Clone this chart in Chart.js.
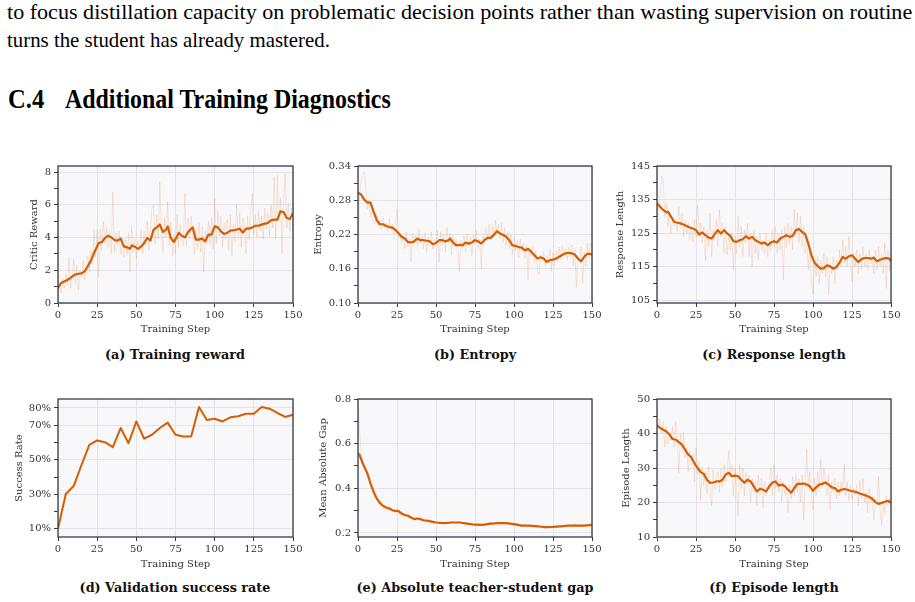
<!DOCTYPE html>
<html>
<head>
<meta charset="utf-8">
<script src="https://cdn.jsdelivr.net/npm/chart.js@4.4.0/dist/chart.umd.min.js"></script>
<style>
  body { margin: 0; width: 915px; height: 602px; background: #fff; position: relative; overflow: hidden; }
  .txt { position: absolute; white-space: nowrap; font-family: "Liberation Serif"; color: #000; transform-origin: 0 0; display: inline-block; }
  canvas { position: absolute; }
  .cap { position: absolute; font-family: "DejaVu Serif"; font-weight: bold; font-size: 12.8px; line-height: 15px; color: #111; white-space: nowrap; transform: translateX(-50%); }
</style>
</head>
<body>

<div class="txt" data-w="905" style="left:7px;top:0.5px;font-size:22px;line-height:22px">to focus distillation capacity on problematic decision points rather than wasting supervision on routine</div>
<div class="txt" data-w="323" style="left:7px;top:28.5px;font-size:22px;line-height:22px">turns the student has already mastered.</div>
<div class="txt" data-w="36" style="left:8px;top:84.5px;font-size:28px;line-height:28px;font-weight:bold">C.4</div>
<div class="txt" data-w="326" style="left:65px;top:84.5px;font-size:28px;line-height:28px;font-weight:bold">Additional Training Diagnostics</div>

<canvas id="ca" width="305" height="184" style="left:0;top:156px"></canvas>
<canvas id="cb" width="305" height="184" style="left:305px;top:156px"></canvas>
<canvas id="cc" width="305" height="184" style="left:610px;top:156px"></canvas>
<canvas id="cd" width="305" height="185" style="left:0;top:389px"></canvas>
<canvas id="ce" width="305" height="185" style="left:305px;top:389px"></canvas>
<canvas id="cf" width="305" height="185" style="left:610px;top:389px"></canvas>

<div class="cap" style="left:175px;top:346.5px">(a) Training reward</div>
<div class="cap" style="left:475px;top:346.5px">(b) Entropy</div>
<div class="cap" style="left:774px;top:346.5px">(c) Response length</div>
<div class="cap" style="left:175px;top:580px">(d) Validation success rate</div>
<div class="cap" style="left:475px;top:580px">(e) Absolute teacher-student gap</div>
<div class="cap" style="left:774px;top:580px">(f) Episode length</div>

<script>
// ---- data ----
const xTicks = [0, 25, 50, 75, 100, 125, 150];
const steps = Array.from({length: 151}, (_, i) => i);

// (a) critic reward
const rewardSmoothX = [0,2,5,8,10,12,15,17,19,21,23,25,26,28,30,32,34,36,38,40,42,44,46,47,49,51,53,55,57,59,61,63,65,67,69,70,72,74,76,77,79,81,83,85,86,88,90,92,94,96,98,100,102,104,106,108,110,113,116,118,120,122,124,126,128,130,132,134,136,138,140,142,144,146,148,149,150];
const rewardSmooth = [0.92,1.22,1.36,1.53,1.69,1.77,1.81,1.93,2.24,2.59,3.05,3.46,3.67,3.73,3.97,4.11,4.01,3.85,3.81,3.93,3.46,3.40,3.32,3.52,3.44,3.30,3.44,3.67,3.97,3.81,4.48,4.62,4.79,4.34,4.48,4.68,3.97,3.73,4.07,4.28,4.11,4.01,4.32,4.54,4.62,3.87,3.87,3.93,3.77,4.18,4.18,4.68,4.62,4.38,4.22,4.28,4.42,4.46,4.54,4.30,4.54,4.54,4.62,4.72,4.72,4.79,4.85,4.89,5.05,5.09,5.09,5.60,5.56,5.19,5.13,5.30,5.50];
const rewardRaw = [
  0.4,1.2,0.6,1.5,0.9,1.8,1.1,2.8,0.9,1.6,
  2.7,1.2,2.3,0.8,2.0,1.5,2.6,1.4,2.3,2.9,
  1.9,3.2,2.4,4.5,2.8,4.5,1.6,4.5,3.2,5.0,
  3.6,4.6,3.4,4.4,3.0,6.8,3.1,4.3,3.5,4.4,
  3.0,4.0,2.8,3.9,2.9,4.3,1.9,4.7,3.1,3.9,
  2.7,3.8,3.2,4.5,3.0,4.4,3.5,5.0,3.2,4.6,
  5.8,6.0,3.6,5.4,3.9,7.4,4.2,3.1,5.2,4.0,
  6.2,3.5,4.9,2.9,4.2,3.0,5.4,3.4,4.8,3.7,
  3.5,6.7,3.5,5.2,3.9,5.3,4.3,3.0,4.5,3.3,
  4.9,3.1,4.7,1.9,4.4,3.6,5.0,3.5,5.2,3.3,
  6.4,3.6,5.6,4.1,5.3,3.4,4.9,3.9,5.1,3.2,
  5.4,2.9,4.8,3.8,6.0,4.0,5.5,3.4,5.2,4.6,
  3.0,5.3,3.9,5.6,6.7,4.2,5.4,4.0,5.6,4.4,
  5.3,3.9,5.8,4.5,5.5,4.1,6.0,4.6,7.7,3.9,
  7.8,5.0,6.4,3.0,6.2,7.9,4.6,6.1,4.4,5.8,
  4.3];

// (b) entropy
const entropySmoothX = [0,2,4,6,8,10,12,14,16,18,20,22,24,26,28,30,32,34,36,38,40,42,44,46,48,50,52,54,56,58,59,61,63,65,67,69,71,73,75,77,79,81,83,85,87,89,91,93,95,97,99,101,103,105,107,109,111,113,115,117,119,121,123,125,127,129,131,133,135,137,139,141,143,145,147,149,150];
const entropySmooth = [0.293,0.290,0.281,0.276,0.276,0.260,0.245,0.238,0.238,0.235,0.233,0.232,0.228,0.222,0.216,0.213,0.207,0.206,0.208,0.213,0.210,0.210,0.209,0.208,0.203,0.205,0.210,0.210,0.208,0.210,0.213,0.206,0.201,0.202,0.201,0.206,0.204,0.206,0.210,0.208,0.204,0.210,0.214,0.214,0.219,0.226,0.222,0.219,0.216,0.210,0.201,0.200,0.198,0.197,0.192,0.195,0.190,0.184,0.178,0.180,0.178,0.172,0.175,0.176,0.178,0.181,0.184,0.187,0.188,0.187,0.185,0.178,0.173,0.181,0.186,0.186,0.184];
const entropyRaw = [
  0.200,0.290,0.315,0.325,0.330,0.300,0.265,0.280,0.250,0.270,
  0.238,0.240,0.255,0.235,0.245,0.228,0.250,0.232,0.240,0.225,
  0.248,0.230,0.238,0.220,0.232,0.265,0.215,0.222,0.205,0.218,
  0.195,0.225,0.198,0.212,0.172,0.222,0.205,0.218,0.200,0.230,
  0.205,0.218,0.195,0.222,0.190,0.215,0.200,0.225,0.195,0.212,
  0.208,0.228,0.172,0.225,0.200,0.220,0.190,0.232,0.205,0.222,
  0.185,0.218,0.200,0.212,0.195,0.155,0.210,0.198,0.218,0.190,
  0.222,0.200,0.215,0.182,0.220,0.205,0.228,0.195,0.212,0.160,
  0.218,0.202,0.232,0.208,0.238,0.210,0.235,0.215,0.245,0.220,
  0.238,0.212,0.240,0.205,0.232,0.200,0.225,0.195,0.220,0.185,
  0.215,0.192,0.210,0.180,0.212,0.190,0.205,0.178,0.202,0.141,
  0.195,0.182,0.200,0.170,0.192,0.160,0.150,0.185,0.172,0.190,
  0.165,0.182,0.170,0.195,0.155,0.188,0.165,0.192,0.172,0.198,
  0.178,0.200,0.185,0.195,0.175,0.198,0.180,0.202,0.165,0.195,
  0.128,0.180,0.172,0.198,0.135,0.190,0.165,0.205,0.180,0.205,
  0.200];

// (c) response length
const lengthSmoothX = [0,2,4,6,7,9,11,13,15,17,19,21,23,25,27,29,31,33,35,37,39,41,43,45,47,49,51,53,55,57,59,61,63,65,67,69,71,73,75,77,79,81,83,85,87,89,91,93,95,97,99,101,103,105,107,109,111,113,115,117,119,121,123,125,127,129,131,133,135,137,139,141,143,145,147,149,150];
const lengthSmooth = [133.9,132.9,131.9,131.2,131.4,129.9,128.4,128.1,127.9,127.6,127.1,126.7,126.4,125.9,124.6,125.2,124.4,123.7,123.4,124.7,125.9,124.9,125.9,124.9,124.2,122.6,122.4,122.9,123.2,124.1,123.4,123.9,122.9,122.4,121.9,122.2,121.4,122.2,122.6,122.2,123.4,123.9,124.4,123.9,124.2,125.9,126.2,125.4,124.7,121.9,118.4,116.2,115.2,114.4,114.6,115.4,115.1,114.4,114.9,116.2,117.9,117.4,118.1,118.4,117.4,116.4,117.2,117.6,117.6,117.4,117.7,116.6,117.1,117.4,117.6,117.4,116.6];
const lengthRaw = [
  120.5,133,136,142,141,130,134,127,131,125,
  129,127,128,125.5,133,127,131,124,129,125,
  128,123,127,122.5,129,124,133.5,124,128,122,
  127,117,126,121,131,118,126,123,129,121,
  132,124,128,119,127,118.5,125,120,125,114,
  124,119,130,121,127,118,126,122,128,118,
  125,115,126,119,124,117,125,120,123,119,
  125,118,123,120,126,121,127,119,125,120,
  126,111,127,121,128,122,127,120,132,124,
  131,122,130,121,127,119,124,114,121,110,
  106.8,117,112,118,110,117,113,119,112,118,
  106.8,116,113,118,110,117,114,120,115,123,
  116,121,115,124,116,110.5,119,115,120,113,
  119,114,121,115,119,114,120,116,118,113,
  120,114,121,115,119,113,122,108.5,120,114,
  119];

// (d) validation success rate, %
const valSteps = [0,5,10,15,20,25,30,35,40,45,50,55,60,65,70,75,80,85,90,95,100,105,110,115,120,125,130,135,140,145,150];
const valRate = [10.2,30.2,34.8,47.0,58.7,61.2,60.2,57.3,68.4,59.6,72.2,62.2,64.5,68.4,71.5,64.5,63.5,63.5,80.6,73.0,73.8,72.2,74.6,75.2,76.7,76.7,80.6,79.6,77.1,74.8,76.1];

// (e) mean absolute teacher-student gap
const gapSmoothX = [0,1,3,5,6,8,10,12,14,16,18,20,22,24,26,28,30,32,34,36,38,40,42,45,48,50,53,56,60,65,70,75,80,85,90,95,100,105,110,115,120,125,130,135,140,145,150];
const gapSmooth = [0.557,0.550,0.512,0.482,0.467,0.422,0.385,0.355,0.335,0.322,0.314,0.310,0.302,0.299,0.298,0.287,0.280,0.277,0.269,0.262,0.265,0.262,0.257,0.254,0.250,0.247,0.245,0.244,0.247,0.247,0.242,0.237,0.236,0.242,0.244,0.244,0.240,0.233,0.233,0.230,0.226,0.227,0.230,0.233,0.233,0.233,0.236];
const gapRaw = [
  0.78,0.66,0.56,0.53,0.50,0.48,0.46,0.44,0.41,0.39,
  0.37,0.36,0.35,0.335,0.33,0.32,0.325,0.31,0.30,0.32,
  0.30,0.315,0.295,0.30,0.29,0.31,0.28,0.295,0.275,0.29,
  0.285,0.275,0.28,0.265,0.27,0.26,0.27,0.26,0.255,0.27,
  0.255,0.26,0.25,0.262,0.25,0.258,0.245,0.255,0.24,0.252,
  0.245,0.255,0.24,0.25,0.238,0.252,0.24,0.25,0.242,0.248,
  0.24,0.252,0.245,0.25,0.24,0.252,0.242,0.248,0.238,0.245,
  0.235,0.245,0.236,0.242,0.232,0.24,0.232,0.238,0.23,0.24,
  0.232,0.242,0.235,0.245,0.236,0.248,0.238,0.245,0.24,0.25,
  0.238,0.246,0.24,0.248,0.238,0.245,0.236,0.243,0.235,0.242,
  0.234,0.24,0.23,0.237,0.228,0.235,0.228,0.236,0.228,0.235,
  0.226,0.234,0.226,0.232,0.224,0.233,0.222,0.232,0.22,0.228,
  0.22,0.23,0.222,0.228,0.22,0.232,0.224,0.23,0.226,0.236,
  0.226,0.234,0.228,0.238,0.226,0.236,0.228,0.24,0.226,0.245,
  0.228,0.236,0.228,0.234,0.23,0.236,0.228,0.234,0.23,0.238,
  0.234];

// (f) episode length
const episodeSmoothX = [0,2,4,6,8,10,12,14,16,18,20,22,24,26,28,30,32,34,36,38,40,42,44,46,48,50,52,54,56,58,60,62,64,66,68,70,72,74,76,78,80,82,84,86,88,90,92,94,96,98,100,102,104,106,108,110,112,114,116,118,120,122,124,126,128,130,132,134,136,138,140,142,144,146,148,150];
const episodeSmooth = [42.4,41.6,41.1,40.6,39.7,38.4,38.2,37.5,36.8,35.3,33.9,33.1,31.4,30.0,28.8,28.3,26.6,25.7,25.8,26.1,26.1,26.6,28.1,28.6,27.6,27.8,27.6,26.6,25.7,26.6,26.1,24.7,23.2,24.0,23.7,23.2,24.7,25.8,26.1,24.9,25.2,24.7,23.7,22.8,24.2,25.4,25.4,25.5,25.2,24.7,23.4,24.4,25.2,25.4,25.8,25.2,24.4,24.2,23.2,23.7,23.9,23.7,23.4,23.2,23.0,22.6,22.3,22.0,21.6,21.1,20.1,19.6,19.9,20.2,20.5,19.9];
const episodeRaw = [
  48,42,44,40,43.5,36,42,37,40,38,
  42,36,43.5,38,28.5,40,35,40.5,33,36,
  29,35,31,34,26,36,28,32,20.5,30,
  25,29,22.5,30.5,24,19,29.5,24,27,29,
  23,30,24.5,31,26,29,35,27.5,31,22,
  30,24,16,31,24,30,22,29,25,28,
  20,27,23,26,19,28,22,27,18.5,26,
  22,25,26,30,22,31,24,28,23,27,
  20,26,22,24,17,25,21,27.5,22,28,
  23,27,20,28,15,25,35.5,24,29,22,
  18,27,22,29,24,32.5,24,30,25,22,
  28,18,26,23,27,21,26,22,26,23,
  31,22,26,20.5,25,21,24,22,25,19,
  26.5,21,27,20,23,17,24,20,22,15,
  21,19,27.5,18,13.5,20,17,22,19,21,
  20];

// ---- styling ----
const ORANGE = '#d55e00';
const ORANGE_FAINT = 'rgba(213, 94, 0, 0.15)';
const FRAME = '#353b48';
const GRID = '#e3e3e9';
const BG = '#f8f8fb';
const TXT = '#333';
const SERIF = '"DejaVu Serif"';
const FS = 10;

// fit the page text lines to their widths
document.querySelectorAll('.txt').forEach(function (el) {
  const w = parseFloat(el.dataset.w);
  el.style.transform = 'scaleX(' + (w / el.offsetWidth) + ')';
});

const framePlugin = {
  id: 'frame',
  beforeDraw(chart) {
    const a = chart.chartArea, ctx = chart.ctx;
    ctx.save();
    ctx.fillStyle = BG;
    ctx.fillRect(a.left, a.top, a.right - a.left, a.bottom - a.top);
    ctx.restore();
  },
  afterDraw(chart) {
    const a = chart.chartArea, ctx = chart.ctx;
    ctx.save();
    ctx.strokeStyle = FRAME;
    ctx.lineWidth = 1.3;
    ctx.strokeRect(a.left, a.top, a.right - a.left, a.bottom - a.top);
    ctx.restore();
  }
};

function pts(xs, ys) {
  return xs.map(function (x, i) { return {x: x, y: ys[i]}; });
}

function makeChart(id, o) {
  const canvas = document.getElementById(id);
  const cx = o.box[0], cy = o.box[1], cw = canvas.width, ch = canvas.height;
  const pl = o.plot[0], pt = o.plot[1], pr = o.plot[2], pb = o.plot[3];
  const minorSet = new Set(o.minor);
  const datasets = [{
    data: pts(o.sx, o.sy), borderColor: ORANGE, borderWidth: o.lw || 2.2,
    pointRadius: 0, tension: 0, borderJoinStyle: 'round', order: 0
  }];
  if (o.raw) {
    datasets.push({
      data: pts(steps, o.raw), borderColor: ORANGE_FAINT, borderWidth: 1,
      pointRadius: 0, tension: 0, order: 1
    });
  }
  return new Chart(canvas, {
    type: 'line',
    data: {datasets: datasets},
    options: {
      responsive: false,
      animation: false,
      events: [],
      layout: {padding: {left: 0, top: pt - cy, right: cx + cw - pr, bottom: 0}},
      plugins: {legend: {display: false}, tooltip: {enabled: false}},
      scales: {
        x: {
          type: 'linear', min: 0, max: 150,
          afterBuildTicks: function (s) { s.ticks = xTicks.map(function (v) { return {value: v}; }); },
          afterFit: function (s) { s.height = cy + ch - pb; },
          border: {display: false},
          grid: {color: GRID, tickColor: FRAME, tickLength: 4, lineWidth: 1},
          ticks: {font: {family: SERIF, size: FS}, color: TXT, padding: 2, maxRotation: 0, autoSkip: false},
          title: {display: true, text: 'Training Step', color: TXT, font: {family: SERIF, size: FS},
                  padding: {top: 0, bottom: o.xtPad}}
        },
        y: {
          type: 'linear', min: o.ymin, max: o.ymax,
          afterBuildTicks: function (s) {
            s.ticks = o.major.concat(o.minor).map(function (v) { return {value: v, minor: minorSet.has(v)}; });
          },
          afterFit: function (s) { s.width = pl - cx; },
          border: {display: false},
          grid: {
            color: function (c) { return c.tick && c.tick.minor ? 'rgba(0,0,0,0)' : GRID; },
            tickColor: FRAME, tickLength: 4, lineWidth: 1
          },
          ticks: {
            font: {family: SERIF, size: FS}, color: TXT, padding: 3, autoSkip: false,
            callback: function (v, i, t) { return t[i].minor ? '' : o.fmt(v); }
          },
          title: {display: true, text: o.ytitle, color: TXT, font: {family: SERIF, size: FS},
                  padding: {top: o.ytPad, bottom: 0}}
        }
      }
    },
    plugins: [framePlugin]
  });
}

makeChart('ca', {
  box: [0, 156], plot: [58, 166, 293, 303], xtPad: 5,
  ymin: 0, ymax: 8.37, major: [0, 2, 4, 6, 8], minor: [1, 3, 5, 7],
  fmt: function (v) { return String(v); }, ytitle: 'Critic Reward', ytPad: 28,
  sx: rewardSmoothX, sy: rewardSmooth, raw: rewardRaw
});
makeChart('cb', {
  box: [305, 156], plot: [358, 166, 592, 303], xtPad: 5,
  ymin: 0.10, ymax: 0.34, major: [0.10, 0.16, 0.22, 0.28, 0.34], minor: [0.13, 0.19, 0.25, 0.31],
  fmt: function (v) { return v.toFixed(2); }, ytitle: 'Entropy', ytPad: 7,
  sx: entropySmoothX, sy: entropySmooth, raw: entropyRaw
});
makeChart('cc', {
  box: [610, 156], plot: [657, 166, 891, 303], xtPad: 5,
  ymin: 104.2, ymax: 145, major: [105, 115, 125, 135, 145], minor: [110, 120, 130, 140],
  fmt: function (v) { return String(v); }, ytitle: 'Response Length', ytPad: 4,
  sx: lengthSmoothX, sy: lengthSmooth, raw: lengthRaw
});
makeChart('cd', {
  box: [0, 389], plot: [58, 399, 293, 537], xtPad: 4,
  ymin: 5.3, ymax: 85.2, major: [10, 30, 50, 70, 80], minor: [20, 40, 60],
  fmt: function (v) { return v + '%'; }, ytitle: 'Success Rate', ytPad: 13,
  sx: valSteps, sy: valRate, raw: null, lw: 2
});
makeChart('ce', {
  box: [305, 389], plot: [358, 399, 592, 537], xtPad: 4,
  ymin: 0.182, ymax: 0.8, major: [0.2, 0.4, 0.6, 0.8], minor: [0.3, 0.5, 0.7],
  fmt: function (v) { return v.toFixed(1); }, ytitle: 'Mean Absolute Gap', ytPad: 12,
  sx: gapSmoothX, sy: gapSmooth, raw: gapRaw
});
makeChart('cf', {
  box: [610, 389], plot: [657, 399, 891, 537], xtPad: 4,
  ymin: 10, ymax: 50, major: [10, 20, 30, 40, 50], minor: [15, 25, 35, 45],
  fmt: function (v) { return String(v); }, ytitle: 'Episode Length', ytPad: 10,
  sx: episodeSmoothX, sy: episodeSmooth, raw: episodeRaw
});
</script>
</body>
</html>
